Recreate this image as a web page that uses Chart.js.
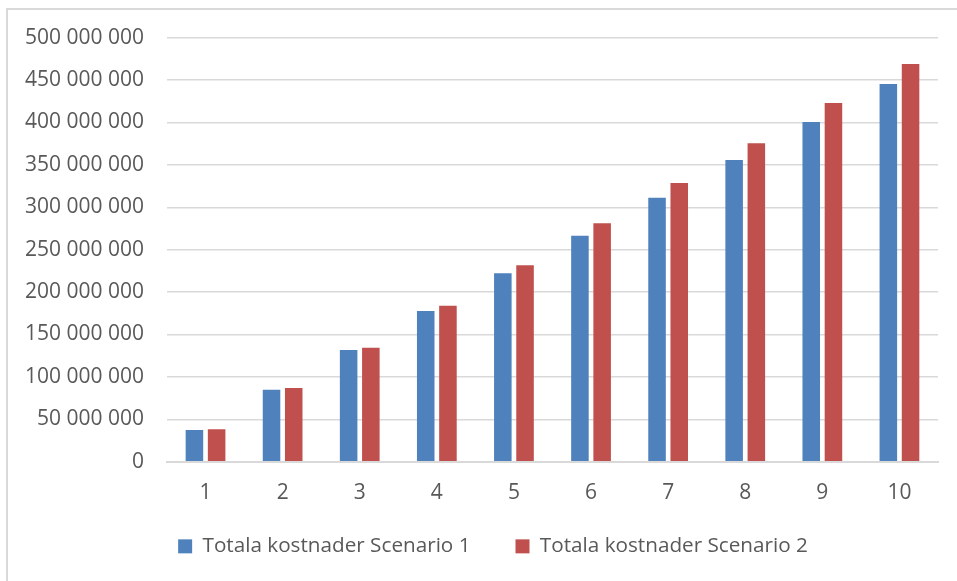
<!DOCTYPE html>
<html>
<head>
<meta charset="utf-8">
<script src="https://cdn.jsdelivr.net/npm/chart.js@4"></script>
<style>
  html, body { margin: 0; padding: 0; background: #fff; }
  #wrap { position: relative; width: 957px; height: 581px; }
  #frame { position: absolute; left: 6px; top: 8px; right: -2px; bottom: -2px; border: 2px solid #d9d9d9; box-sizing: border-box; }
  canvas { position: absolute; left: 0; top: 0; }
</style>
</head>
<body>
<div id="wrap">
  <div id="frame"></div>
  <canvas id="c" width="957" height="581"></canvas>
</div>
<script>
const categories = ['1', '2', '3', '4', '5', '6', '7', '8', '9', '10'];
const seriesNames = ['Totala kostnader Scenario 1', 'Totala kostnader Scenario 2'];
const scenario1 = [37400000, 84900000, 131700000, 177700000, 222200000, 266500000, 311300000, 355800000, 400600000, 445400000];
const scenario2 = [38200000, 86900000, 134400000, 184000000, 231600000, 281100000, 328700000, 375500000, 423000000, 469000000];
const yMax = 500000000;
const yStep = 50000000;

function fmt(v) {
  return String(Math.round(v)).replace(/\B(?=(\d{3})+(?!\d))/g, ' ');
}

const FONT = { family: '"Open Sans", sans-serif', size: 21 };
const LEGEND_FONT = { family: '"Open Sans", sans-serif', size: 20.7 };
const TXT = '#595959';
const LEGEND_PAD = 45;        // horizontal gap between legend items
const LEGEND_HEIGHT = 56.1;   // space reserved for the legend
const LEGEND_ITEM_TOP = 536;  // where legend items start vertically
const LEGEND_SHIFT_X = 23;

const legendTweak = {
  id: 'legendTweak',
  beforeLayout(chart) {
    const lg = chart.legend;
    if (lg && !lg.__patched) {
      const orig = lg.fit;
      lg.fit = function () { orig.call(this); this.height = LEGEND_HEIGHT; };
      lg.__patched = true;
    }
  },
  afterLayout(chart) {
    const lg = chart.legend;
    if (!lg) return;
    lg.top = LEGEND_ITEM_TOP - LEGEND_PAD;
    lg.bottom = chart.height;
    lg.height = lg.bottom - lg.top;
    lg.left += LEGEND_SHIFT_X; lg.right += LEGEND_SHIFT_X;
  }
};

new Chart(document.getElementById('c'), {
  type: 'bar',
  data: {
    labels: categories,
    datasets: [
      { label: seriesNames[0], data: scenario1, backgroundColor: '#4f81bd', borderWidth: 0 },
      { label: seriesNames[1], data: scenario2, backgroundColor: '#c0504d', borderWidth: 0 }
    ]
  },
  plugins: [legendTweak],
  options: {
    responsive: false,
    animation: false,
    devicePixelRatio: 1,
    categoryPercentage: 0.576,
    barPercentage: 0.79,
    layout: { padding: { left: 2, right: 19, top: 37.7, bottom: 0 } },
    plugins: {
      tooltip: { enabled: false },
      legend: {
        position: 'bottom',
        labels: {
          font: LEGEND_FONT, color: TXT,
          boxWidth: 14, boxHeight: 14,
          padding: LEGEND_PAD
        }
      }
    },
    scales: {
      x: {
        grid: { display: false, drawTicks: false },
        border: { display: true, color: '#d9d9d9', width: 2 },
        ticks: { font: FONT, color: TXT, padding: 19 }
      },
      y: {
        min: 0, max: yMax,
        grid: { color: '#d9d9d9', lineWidth: 1.5, drawTicks: false },
        border: { display: false },
        ticks: { stepSize: yStep, font: FONT, color: TXT, padding: 23, callback: v => fmt(v) }
      }
    }
  }
});
</script>
</body>
</html>
